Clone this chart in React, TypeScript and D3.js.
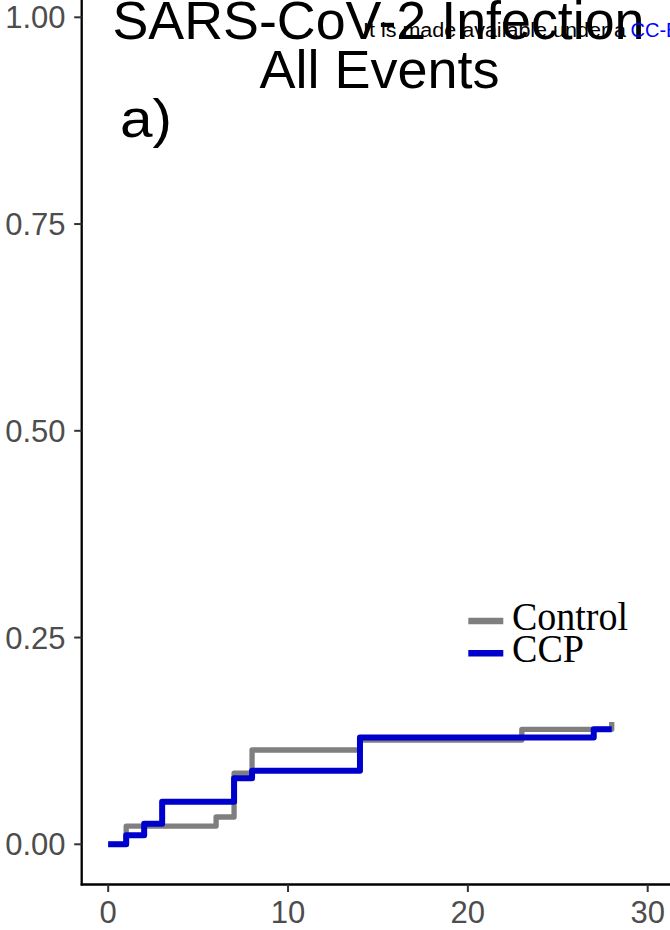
import React from "react";
import * as d3 from "d3";

const controlTimes = [0, 1, 6, 7, 8, 14, 23, 28];
const controlValues = [0, 0.022, 0.033, 0.086, 0.114, 0.126, 0.139, 0.148];
const ccpTimes = [0, 1, 2, 3, 7, 8, 14, 27, 28];
const ccpValues = [0, 0.011, 0.025, 0.0515, 0.08, 0.089, 0.129, 0.139, 0.139];
const xTicks = [0, 10, 20, 30];
const yTicks = [0, 0.25, 0.5, 0.75, 1.0];
const seriesNames = ["Control", "CCP"];
const seriesColors = ["#7F7F7F", "#0000CD"];
const titleLines = ["SARS-CoV-2 Infection", "All Events"];
const panelLabel = "a)";

const W = 670;
const H = 930;
const sans = "'Liberation Sans', Arial, Helvetica, sans-serif";
const serif = "'Liberation Serif', 'Times New Roman', Times, serif";

export default function App() {
  const x = d3.scaleLinear().domain([0, 30]).range([108.2, 647.7]);
  const y = d3.scaleLinear().domain([0, 1]).range([844.3, 17.3]);
  const axisX = 81.7;
  const axisY = 884.5;

  const line = d3
    .line<[number, number]>()
    .x((d) => x(d[0]))
    .y((d) => y(d[1]))
    .curve(d3.curveStepAfter);

  const controlPts = controlTimes.map((t, i) => [t, controlValues[i]] as [number, number]);
  const ccpPts = ccpTimes.map((t, i) => [t, ccpValues[i]] as [number, number]);
  const series = [
    { pts: controlPts, width: 5.3 },
    { pts: ccpPts, width: 6 },
  ];

  const fmt = d3.format(".2f");

  return (
    <svg
      width={W}
      height={H}
      viewBox={`0 0 ${W} ${H}`}
      style={{ position: "absolute", left: 0, top: 0, display: "block", background: "#fff" }}
    >
      <rect x={0} y={0} width={W} height={H} fill="#fff" />
      {series.map((s, i) => (
        <path
          key={seriesNames[i]}
          d={line(s.pts) || ""}
          fill="none"
          stroke={seriesColors[i]}
          strokeWidth={s.width}
          strokeLinejoin="round"
          strokeLinecap="butt"
        />
      ))}
      <line x1={axisX} x2={axisX} y1={0} y2={axisY + 1} stroke="#000" strokeWidth={2.3} />
      <line x1={axisX - 1} x2={W} y1={axisY} y2={axisY} stroke="#000" strokeWidth={2.3} />
      {yTicks.map((t) => (
        <g key={"y" + t}>
          <line x1={axisX - 7.5} x2={axisX} y1={y(t)} y2={y(t)} stroke="#333" strokeWidth={2} />
          <text
            x={65.5}
            y={y(t)}
            dy="0.36em"
            textAnchor="end"
            fontFamily={sans}
            fontSize={31}
            fill="#4D4D4D"
          >
            {fmt(t)}
          </text>
        </g>
      ))}
      {xTicks.map((t) => (
        <g key={"x" + t}>
          <line x1={x(t)} x2={x(t)} y1={axisY} y2={axisY + 7.5} stroke="#333" strokeWidth={2} />
          <text x={x(t)} y={922.5} textAnchor="middle" fontFamily={sans} fontSize={31} fill="#4D4D4D">
            {t}
          </text>
        </g>
      ))}
      {seriesNames.map((n, i) => (
        <g key={"lg" + n}>
          <line
            x1={468.3}
            x2={503.3}
            y1={621 + i * 32.3}
            y2={621 + i * 32.3}
            stroke={seriesColors[i]}
            strokeWidth={6.6}
          />
          <text
            x={512}
            y={630 + i * 31.7}
            fontFamily={serif}
            fontSize={41}
            fill="#000"
            textLength={i === 0 ? 116 : 72}
            lengthAdjust="spacingAndGlyphs"
          >
            {n}
          </text>
        </g>
      ))}
      <text
        x={112.5}
        y={38.5}
        fontFamily={sans}
        fontSize={54}
        fill="#000"
        textLength={532}
        lengthAdjust="spacingAndGlyphs"
      >
        {titleLines[0]}
      </text>
      <text
        x={259.5}
        y={88}
        fontFamily={sans}
        fontSize={54}
        fill="#000"
        textLength={240}
        lengthAdjust="spacingAndGlyphs"
      >
        {titleLines[1]}
      </text>
      <text
        x={120}
        y={137}
        fontFamily={sans}
        fontSize={54}
        fill="#000"
        textLength={52}
        lengthAdjust="spacingAndGlyphs"
      >
        {panelLabel}
      </text>
      <text
        x={363}
        y={36.7}
        fontFamily={sans}
        fontSize={20}
        fill="#000"
        textLength={263}
        lengthAdjust="spacingAndGlyphs"
      >
        It is made available under a
      </text>
      <text x={630.5} y={36.7} fontFamily={sans} fontSize={20} fill="#0000FF">
        CC-BY
      </text>
    </svg>
  );
}
